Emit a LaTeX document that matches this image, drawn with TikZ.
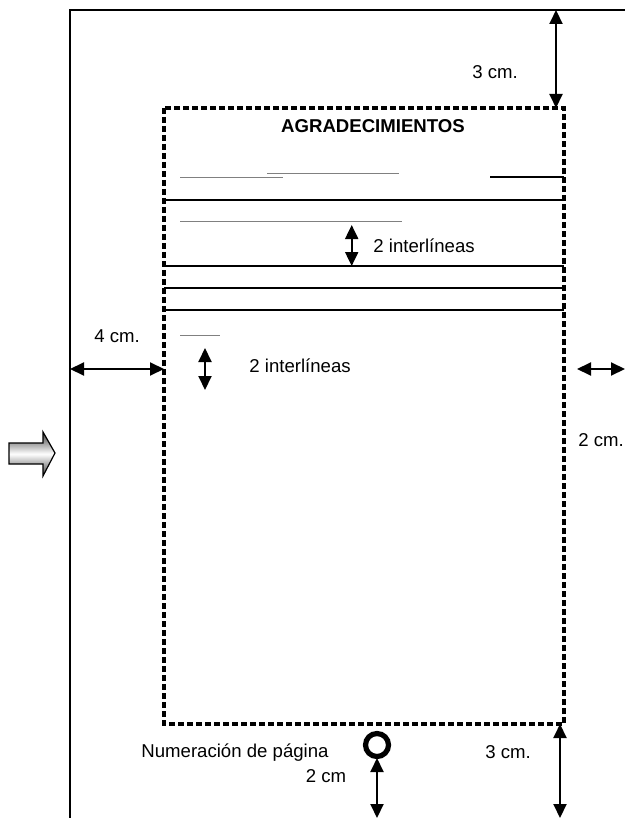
\documentclass[tikz,border=0pt]{standalone}
\usepackage{fontspec}
\setmainfont{Liberation Sans}
\usetikzlibrary{positioning}
\usetikzlibrary{arrows.meta}
\usetikzlibrary{calc}

\begin{document}
\begin{tikzpicture}[x=0.5pt, y=-0.5pt, font=\fontsize{9.3}{11}\selectfont,
    measure/.style={{Triangle[length=7pt,width=6.5pt]}-{Triangle[length=7pt,width=6.5pt]}, line width=1pt},
    dashbox/.style={line width=1.7pt, dash pattern=on 3.2pt off 1.3pt},
    rule/.style={line width=1pt},
    draft/.style={line width=0.5pt, gray},
    lbl/.style={inner sep=0pt}]
    \useasboundingbox (0,0) rectangle (625,818);

    % draw page edges
    \draw[line width=1pt] (70,818) -- (70,10) -- (625,10);

    % draw text area
    \draw[dashbox] (164,108) rectangle (564,724);
    \node[lbl, font=\fontsize{9.3}{11}\selectfont\bfseries] (title) at (373,126) {AGRADECIMIENTOS};

    % draw horizontal lines
    \draw[draft] (180,177.5) -- (283,177.5);
    \draw[draft] (267,174) -- (399,174);
    \draw[rule] (490,177.5) -- (564,177.5);
    \foreach \y in {200,265.7,288.3,310}
      \draw[rule] (164,\y) -- (564,\y);
    \draw[draft] (180,221.7) -- (402,221.7);
    \draw[draft] (180,335) -- (220,335);

    % draw coordinates for arrows
    \coordinate (topA) at (556,10);
    \coordinate (topB) at (556,108);
    \coordinate (leftA) at (70,369);
    \coordinate (leftB) at (164,369);
    \coordinate (rightA) at (577,369);
    \coordinate (rightB) at (625,369);
    \coordinate (gapA) at (351.7,225);
    \coordinate (gapB) at (351.7,266);
    \coordinate (gapC) at (205,348);
    \coordinate (gapD) at (205,390);
    \coordinate (botA) at (560,724);
    \coordinate (botB) at (560,818);
    \coordinate (numA) at (377,758);
    \coordinate (numB) at (377,818);

    % draw arrows
    \draw[measure] (topA) -- (topB);
    \draw[measure] (leftA) -- (leftB);
    \draw[measure] (rightA) -- (rightB);
    \draw[measure] (gapA) -- (gapB);
    \draw[measure] (gapC) -- (gapD);
    \draw[measure] (botA) -- (botB);
    \draw[measure] (numA) -- (numB);

    % draw page number mark
    \node[circle, draw, line width=2.6pt, minimum size=11.5pt, inner sep=0pt] (pagenum) at (377,745) {};

    % draw nodes
    \node[lbl] (topcm) at (495,72) {3 cm.};
    \node[lbl] (leftcm) at (117,336) {4 cm.};
    \node[lbl] (rightcm) at (601,440) {2 cm.};
    \node[lbl, anchor=west] (gaplbl) at (373,246) {2 interlíneas};
    \node[lbl, anchor=west] (gaplbl2) at (249,366) {2 interlíneas};
    \node[lbl] (botcm) at (508,752) {3 cm.};
    \node[lbl] (numlbl) at (235,753) {Numeración de página};
    \node[lbl] (numcm) at (326,776) {2 cm};

    % draw shaded arrow
    \draw[line width=0.6pt, top color=black!75, bottom color=black!75, middle color=white]
      (9,443) -- (43,443) -- (43,432) -- (55,453) -- (43,476) -- (43,464) -- (9,464) -- cycle;
\end{tikzpicture}
\end{document}
